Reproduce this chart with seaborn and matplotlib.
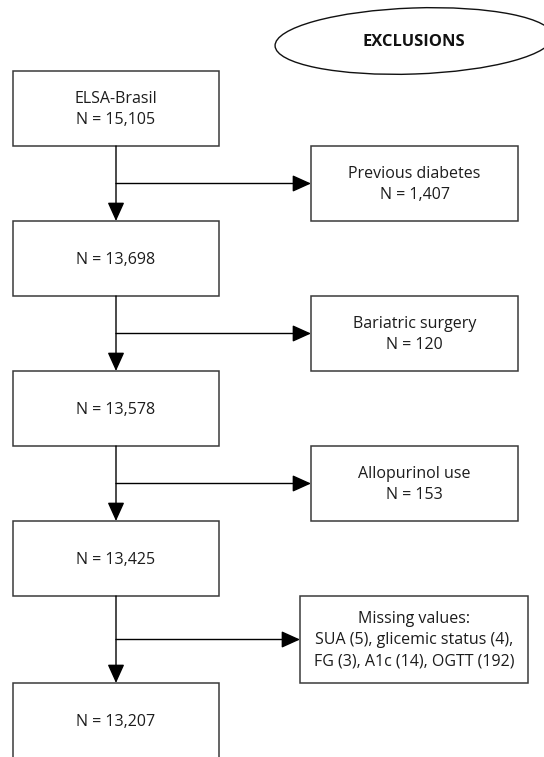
import seaborn as sns
import matplotlib.pyplot as plt
from matplotlib.patches import Rectangle, Ellipse

# --- DATA ---
STAGE_TITLES = ['ELSA-Brasil', '', '', '', '']
STAGE_N = [15105, 13698, 13578, 13425, 13207]
EXCL_TITLES = ['Previous diabetes', 'Bariatric surgery', 'Allopurinol use', 'Missing values:']
EXCL_N = [1407, 120, 153, None]
MISSING_VARS = ['SUA', 'glicemic status', 'FG', 'A1c', 'OGTT']
MISSING_N = [5, 4, 3, 14, 192]

# --- LAYOUT (pixels, y grows downwards) ---
W, H = 544, 757
MAIN_X0, MAIN_W, BOX_H, TOP0 = 13, 206, 75, 71
GAPS = [75, 75, 75, 87]
SIDE_X = [(311, 518)] * 3 + [(300, 528)]
TRUNK_X = MAIN_X0 + MAIN_W / 2
EDGE = '#3a3a3a'
TXT = '#1c1c1c'
FS = 11.5

sns.set_theme(style='white')
plt.rcParams['font.family'] = ['Open Sans', 'DejaVu Sans']

fig = plt.figure(figsize=(W / 100, H / 100), dpi=100)
ax = fig.add_axes([0, 0, 1, 1])
ax.set_xlim(0, W)
ax.set_ylim(H, 0)
ax.axis('off')


def box(x0, y0, w, h, text):
    ax.add_patch(Rectangle((x0, y0), w, h, facecolor='white', edgecolor=EDGE, lw=1.1))
    ax.text(x0 + w / 2, y0 + h / 2 + 1, text, ha='center', va='center',
            fontsize=FS, color=TXT, linespacing=1.45)


def arrow(x0, y0, x1, y1):
    ax.annotate('', xy=(x1, y1), xytext=(x0, y0),
                arrowprops=dict(arrowstyle='-|>,head_length=1.15,head_width=0.52',
                                mutation_scale=10, color='black', lw=1.0,
                                shrinkA=0, shrinkB=0))


# main boxes
tops = [TOP0]
for g in GAPS:
    tops.append(tops[-1] + BOX_H + g)

for i, (title, n) in enumerate(zip(STAGE_TITLES, STAGE_N)):
    label = f'N = {n:,}' if not title else f'{title}\nN = {n:,}'
    box(MAIN_X0, tops[i], MAIN_W, BOX_H, label)

# exclusion boxes + arrows
missing = [f'{v} ({n})' for v, n in zip(MISSING_VARS, MISSING_N)]
for i, (title, n) in enumerate(zip(EXCL_TITLES, EXCL_N)):
    y0 = tops[i] + BOX_H
    gap = GAPS[i]
    if n is None:
        label = title + '\n' + ', '.join(missing[:2]) + ',\n' + ', '.join(missing[2:])
    else:
        label = f'{title}\nN = {n:,}'
    sx0, sx1 = SIDE_X[i]
    box(sx0, y0, sx1 - sx0, gap, label)
    arrow(TRUNK_X, y0, TRUNK_X, tops[i + 1])
    arrow(TRUNK_X, y0 + gap / 2, sx0, y0 + gap / 2)

# header ellipse
ax.add_patch(Ellipse((414, 41), 278, 66, angle=-2, facecolor='white',
                     edgecolor='#111111', lw=1.0))
ax.text(414, 42, 'EXCLUSIONS', ha='center', va='center', fontsize=FS * 1.03,
        fontweight='bold', color='#111111')

fig.savefig('out.png', dpi=100)
